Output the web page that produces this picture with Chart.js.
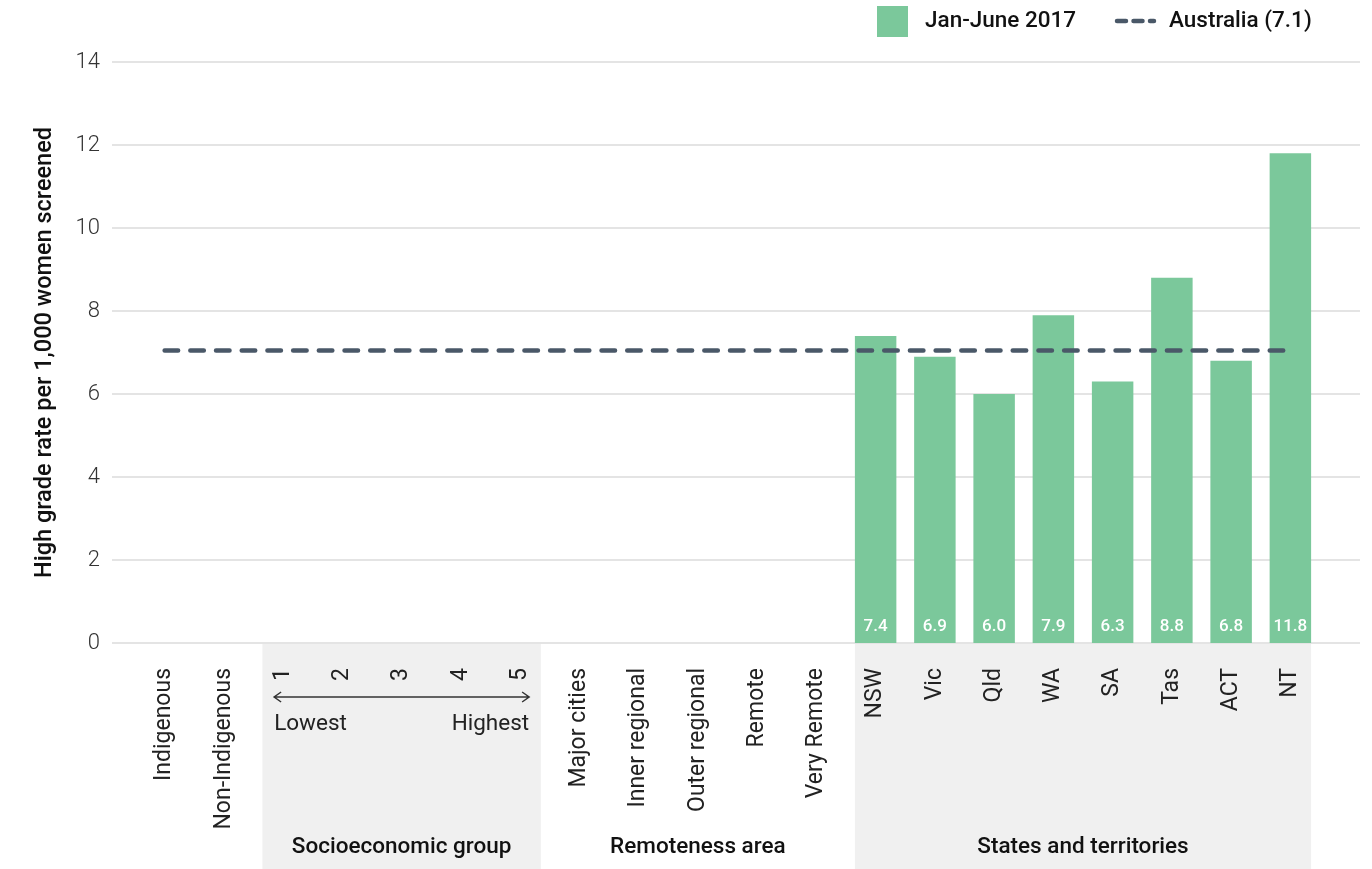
<!DOCTYPE html>
<html>
<head>
<meta charset="utf-8">
<script src="https://cdn.jsdelivr.net/npm/chart.js@4"></script>
<style>
html, body { margin: 0; padding: 0; background: #fff; }
#wrap { width: 1372px; height: 869px; position: relative; }
</style>
</head>
<body>
<div id="wrap"><canvas id="mychart"></canvas></div>
<script>
'use strict';

const categories = ['Indigenous', 'Non-Indigenous', '1', '2', '3', '4', '5',
    'Major cities', 'Inner regional', 'Outer regional', 'Remote', 'Very Remote',
    'NSW', 'Vic', 'Qld', 'WA', 'SA', 'Tas', 'ACT', 'NT'];
const rates2017 = [null, null, null, null, null, null, null,
    null, null, null, null, null,
    7.4, 6.9, 6.0, 7.9, 6.3, 8.8, 6.8, 11.8];
const australiaRate = 7.05;
const australiaLine = categories.map(() => australiaRate);
const yTicks = [0, 2, 4, 6, 8, 10, 12, 14];
const groupNames = ['Socioeconomic group', 'Remoteness area', 'States and territories'];
const groupFirst = [2, 7, 12];
const groupLast = [6, 11, 19];
const groupShaded = [true, false, true];
const legendLabels = ['Jan-June 2017', 'Australia (7.1)'];

const FONT = 'Roboto, "DejaVu Sans", sans-serif';
const GREEN = '#7bc89b';
const SLATE = '#4a5868';
const DASH = [13.5, 12.2];

const decor = {
    id: 'decor',
    beforeDraw(chart) {
        const ctx = chart.ctx;
        const x = chart.scales.x, y = chart.scales.y;
        const area = chart.chartArea;
        const step = x.getPixelForValue(1) - x.getPixelForValue(0);
        const half = step * 0.35;
        ctx.save();
        // shaded group bands under the axis
        ctx.fillStyle = '#f0f0f0';
        groupNames.forEach((g, i) => {
            if (!groupShaded[i]) return;
            const l = x.getPixelForValue(groupFirst[i]) - half;
            const r = x.getPixelForValue(groupLast[i]) + half;
            ctx.fillRect(l, area.bottom, r - l, chart.height - area.bottom);
        });
        // gridlines, wider than the plot
        ctx.strokeStyle = '#e4e4e4';
        ctx.lineWidth = 2;
        yTicks.forEach(v => {
            const py = Math.round(y.getPixelForValue(v));
            ctx.beginPath();
            ctx.moveTo(area.left - 23, py);
            ctx.lineTo(area.right + 40, py);
            ctx.stroke();
        });
        ctx.restore();
    },
    afterDatasetsDraw(chart) {
        const ctx = chart.ctx;
        const meta = chart.getDatasetMeta(0);
        ctx.save();
        ctx.fillStyle = '#fff';
        ctx.font = '500 17px ' + FONT;
        ctx.textAlign = 'center';
        ctx.textBaseline = 'middle';
        meta.data.forEach((bar, i) => {
            if (rates2017[i] == null) return;
            ctx.fillText(rates2017[i].toFixed(1), bar.x, chart.chartArea.bottom - 16);
        });
        ctx.restore();
    },
    afterDraw(chart) {
        const ctx = chart.ctx;
        const x = chart.scales.x;
        ctx.save();
        // socioeconomic arrow
        const ax1 = x.getPixelForValue(2) - 9;
        const ax2 = x.getPixelForValue(6) + 9;
        const ay = 697;
        ctx.strokeStyle = '#333';
        ctx.lineWidth = 1.5;
        ctx.beginPath();
        ctx.moveTo(ax1, ay); ctx.lineTo(ax2, ay);
        ctx.moveTo(ax1 + 7, ay - 5); ctx.lineTo(ax1, ay); ctx.lineTo(ax1 + 7, ay + 5);
        ctx.moveTo(ax2 - 7, ay - 5); ctx.lineTo(ax2, ay); ctx.lineTo(ax2 - 7, ay + 5);
        ctx.stroke();
        ctx.fillStyle = '#222';
        ctx.font = '400 22.5px ' + FONT;
        ctx.textBaseline = 'middle';
        ctx.textAlign = 'left';
        ctx.fillText('Lowest', ax1, 724);
        ctx.textAlign = 'right';
        ctx.fillText('Highest', ax2, 724);
        // group names
        ctx.fillStyle = '#111';
        ctx.font = '500 22.5px ' + FONT;
        ctx.textAlign = 'center';
        groupNames.forEach((g, i) => {
            const cx = (x.getPixelForValue(groupFirst[i]) + x.getPixelForValue(groupLast[i])) / 2;
            ctx.fillText(g, cx, 847);
        });
        // legend
        const ly = 21;
        ctx.fillStyle = GREEN;
        ctx.fillRect(877, 6, 31, 31);
        ctx.fillStyle = '#111';
        ctx.textAlign = 'left';
        ctx.fillText(legendLabels[0], 925, ly);
        ctx.strokeStyle = SLATE;
        ctx.lineWidth = 4.5;
        ctx.lineCap = 'round';
        ctx.setLineDash([9, 7.5]);
        ctx.beginPath();
        ctx.moveTo(1117, ly); ctx.lineTo(1154, ly);
        ctx.stroke();
        ctx.setLineDash([]);
        ctx.fillText(legendLabels[1], 1169, ly);
        ctx.restore();
    }
};

const $canvas = document.getElementById('mychart');
const graph = new Chart($canvas, {
    data: {
        labels: categories,
        datasets: [{
            type: 'bar',
            label: legendLabels[0],
            data: rates2017,
            backgroundColor: GREEN,
            barPercentage: 0.7,
            categoryPercentage: 1,
            order: 1,
        }, {
            type: 'line',
            label: legendLabels[1],
            data: australiaLine,
            borderColor: SLATE,
            borderWidth: 4.5,
            borderDash: DASH,
            borderCapStyle: 'round',
            pointRadius: 0,
            fill: false,
            order: 0,
        }],
    },
    options: {
        responsive: true,
        maintainAspectRatio: false,
        animation: false,
        layout: { padding: { top: 62, right: 52, left: 0, bottom: 0 } },
        plugins: {
            legend: { display: false },
            tooltip: { enabled: false },
        },
        scales: {
            x: {
                grid: { display: false },
                border: { display: false },
                ticks: {
                    autoSkip: false,
                    minRotation: 90,
                    maxRotation: 90,
                    padding: 17,
                    color: '#222',
                    font: { family: FONT, size: 23, weight: '400' },
                },
                afterFit(scale) { scale.height = 226; },
            },
            y: {
                min: 0,
                max: 14,
                grid: { display: false },
                border: { display: false },
                ticks: {
                    stepSize: 2,
                    padding: 27,
                    color: '#333',
                    font: { family: FONT, size: 22, weight: '300' },
                },
                title: {
                    display: true,
                    text: 'High grade rate per 1,000 women screened',
                    color: '#111',
                    padding: { top: 31, bottom: 0 },
                    font: { family: FONT, size: 23.5, weight: '500' },
                },
                afterFit(scale) { scale.width = 135; },
            },
        },
    },
    plugins: [decor],
});
</script>
</body>
</html>
